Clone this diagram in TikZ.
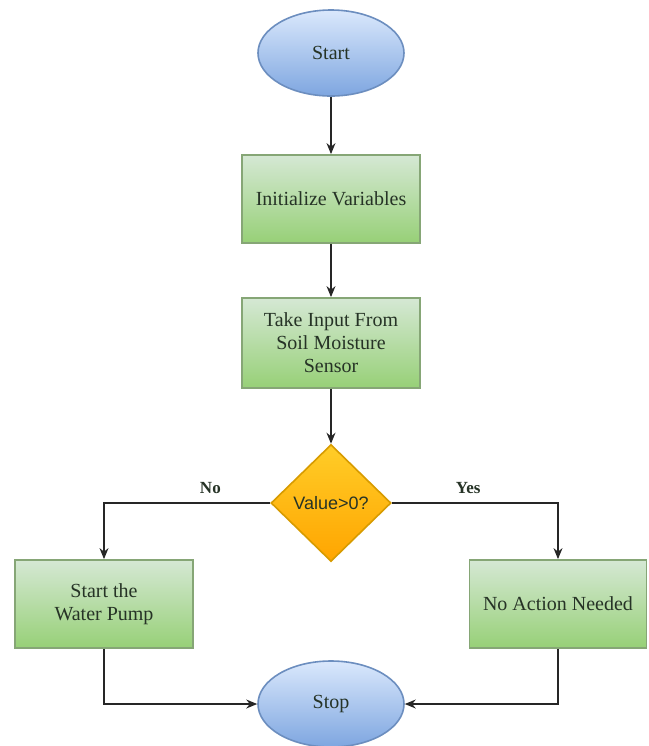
\documentclass[tikz,border=0pt]{standalone}
\usepackage{fontspec}
\setmainfont{Liberation Serif}
\newfontfamily\arialfont{Liberation Sans}
\usetikzlibrary{shapes.geometric,arrows.meta}

\definecolor{termline}{HTML}{6C8EBF}
\definecolor{termtop}{HTML}{DAE8FC}
\definecolor{termbot}{HTML}{7EA6E0}
\definecolor{procline}{HTML}{86A676}
\definecolor{proctop}{HTML}{D5E8D4}
\definecolor{procbot}{HTML}{97D077}
\definecolor{decline}{HTML}{D79B00}
\definecolor{dectop}{HTML}{FFCD28}
\definecolor{decbot}{HTML}{FFA500}
\definecolor{txtcol}{HTML}{263326}

\tikzset{
  terminal/.style={ellipse, draw=termline, line width=0.8pt, top color=termtop, bottom color=termbot,
    minimum width=73pt, minimum height=43pt, inner sep=0pt, text=txtcol, font=\fontsize{10}{12}\selectfont},
  process/.style={rectangle, draw=procline, line width=0.9pt, top color=proctop, bottom color=procbot,
    minimum width=89pt, minimum height=44pt, inner sep=1pt, align=center, text=txtcol,
    font=\fontsize{10}{11.5}\selectfont},
  decision/.style={diamond, aspect=1, draw=decline, line width=0.8pt, top color=dectop, bottom color=decbot,
    minimum width=60pt, minimum height=58.5pt, inner sep=0pt, text=txtcol, font=\arialfont\fontsize{9}{10}\selectfont},
  flow/.style={-{Stealth[length=5.5pt,width=4.5pt]}, line width=0.6pt, draw=black!85},
  branch/.style={font=\bfseries\fontsize{8.5}{10}\selectfont, text=txtcol, above=1pt}
}

\begin{document}
\begin{tikzpicture}[x=0.5pt,y=-0.5pt]
\useasboundingbox (0,0) rectangle (649,746);
% nodes
\node[terminal] (start) at (331,53) {Start};
\node[process] (init) at (331,199) {Initialize Variables};
\node[process, minimum height=45pt] (input) at (331,343) {Take Input From\\Soil Moisture\\Sensor};
\node[decision] (check) at (331,503) {Value>0?};
\node[process] (pump) at (104,604) {Start the\\Water Pump};
\node[process, minimum width=88.5pt] (noact) at (558,604) {No Action Needed};
\node[terminal] (stop) at (331,704) {Stop};
% connectors
\draw[flow] (start) -- (init);
\draw[flow] (init) -- (input);
\draw[flow] (input) -- (check);
\draw[flow] (check.west) -| node[branch, pos=0.18] {No} (pump.north);
\draw[flow] (check.east) -| node[branch, pos=0.23] {Yes} (noact.north);
\draw[flow] (pump.south) |- (stop.west);
\draw[flow] (noact.south) |- (stop.east);
\end{tikzpicture}
\end{document}
